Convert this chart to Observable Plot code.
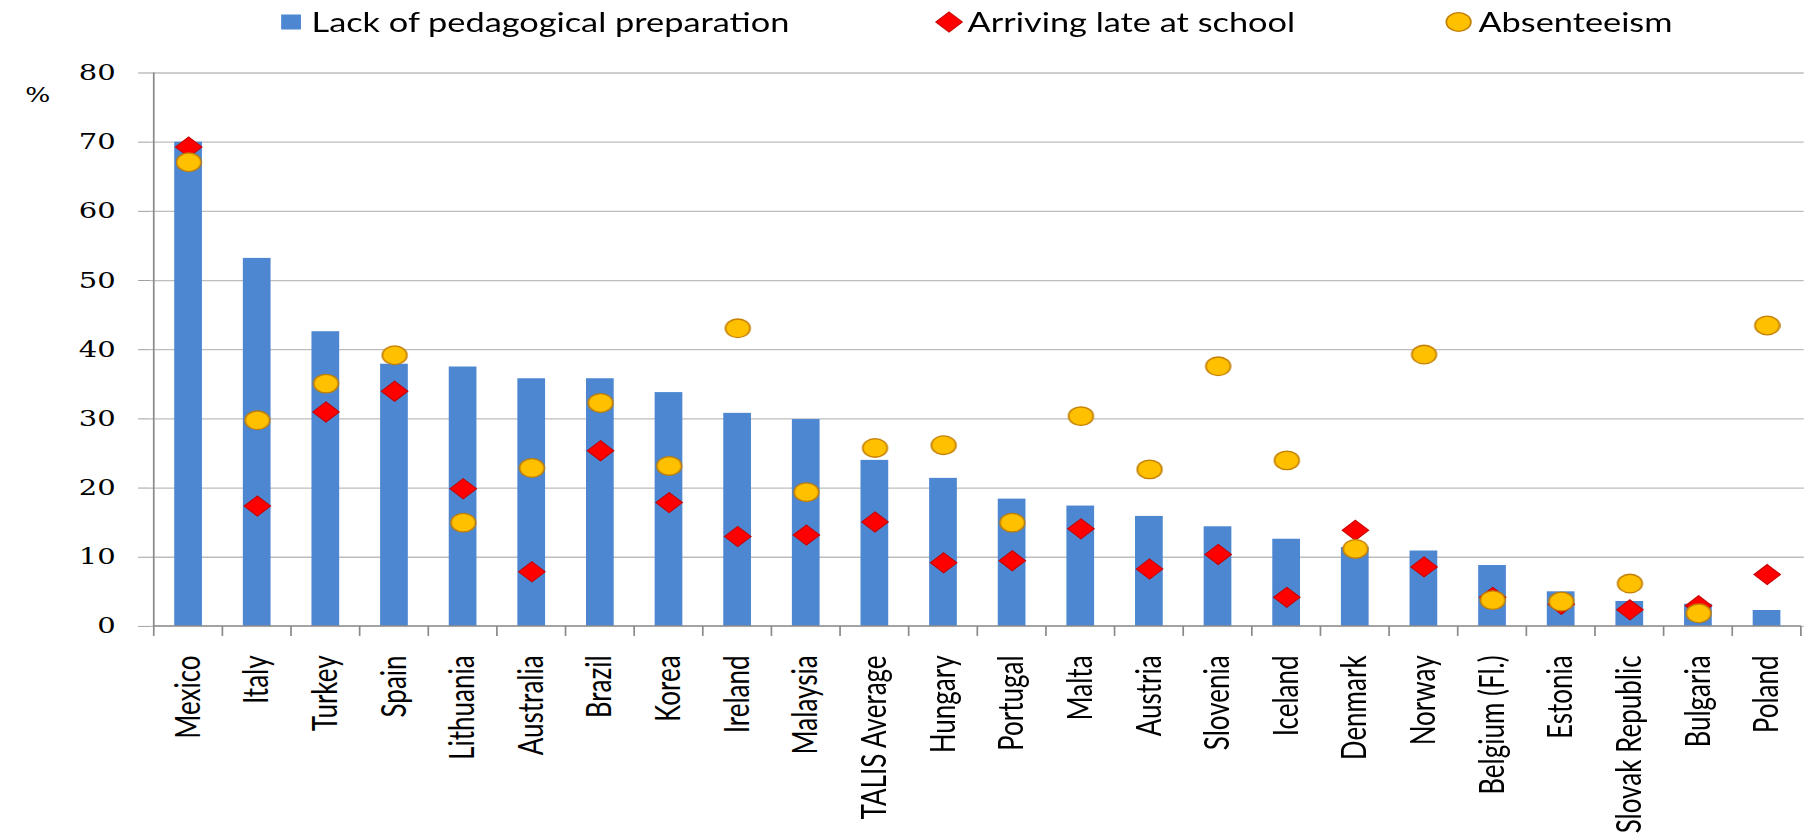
<!DOCTYPE html>
<html>
<head>
<meta charset="utf-8">
<script src="https://cdn.jsdelivr.net/npm/d3@7"></script>
<script src="https://cdn.jsdelivr.net/npm/@observablehq/plot@0.6"></script>
<style>
  html, body { margin: 0; padding: 0; background: #fff; overflow: hidden; }
  /* the whole figure is drawn narrow and stretched horizontally */
  #stage { position: relative; width: 1371px; transform: scaleX(1.32); transform-origin: 0 0; }
  #legend { position: relative; height: 44px; font-family: Lato, "Open Sans", sans-serif; font-size: 26px; color: #000; }
  .item { position: absolute; top: 0; height: 44px; display: flex; align-items: center; white-space: nowrap; }
  .item svg { flex: none; }
</style>
</head>
<body>
<div id="stage">
  <div id="legend"></div>
  <div id="chart"></div>
</div>
<script>
// Teachers' behaviour hindering instruction, by country (%)
const countries = [
  "Mexico", "Italy", "Turkey", "Spain", "Lithuania", "Australia", "Brazil", "Korea",
  "Ireland", "Malaysia", "TALIS Average", "Hungary", "Portugal", "Malta", "Austria",
  "Slovenia", "Iceland", "Denmark", "Norway", "Belgium (Fl.)", "Estonia",
  "Slovak Republic", "Bulgaria", "Poland"
];
const lackOfPreparation = [
  70.0, 53.2, 42.6, 37.9, 37.5, 35.8, 35.8, 33.8, 30.8, 29.9, 24.0, 21.4,
  18.4, 17.4, 15.9, 14.4, 12.6, 11.4, 10.9, 8.8, 5.0, 3.6, 3.2, 2.3
];
const arrivingLate = [
  69.3, 17.4, 31.0, 34.0, 19.9, 7.9, 25.4, 17.9, 13.0, 13.2, 15.1, 9.2,
  9.5, 14.1, 8.3, 10.4, 4.2, 13.9, 8.6, 4.2, 3.2, 2.4, 3.0, 7.5
];
const absenteeism = [
  67.1, 29.8, 35.1, 39.2, 15.0, 22.9, 32.3, 23.2, 43.1, 19.4, 25.8, 26.2,
  15.0, 30.4, 22.7, 37.6, 24.0, 11.2, 39.3, 3.8, 3.6, 6.2, 1.9, 43.5
];
const yTicks = [0, 10, 20, 30, 40, 50, 60, 70, 80];
const seriesNames = ["Lack of pedagogical preparation", "Arriving late at school", "Absenteeism"];

const barColor = "#4d87d1";
const diamondFill = "#ff0000", diamondStroke = "#c80000";
const circleFill = "#ffc000", circleStroke = "#c27e00";

const rows = countries.map((country, i) => ({
  country,
  prep: lackOfPreparation[i],
  late: arrivingLate[i],
  absent: absenteeism[i]
}));

// horizontal stretch of the figure
const k = 1.32;
const W = 1810 / k;

// axis lines and category separators at the band edges
function bandFrame(index, scales) {
  const {x, y} = scales;
  const half = (x.step() - x.bandwidth()) / 2;
  const edges = countries.map((c) => x(c) - half);
  edges.push(x(countries[countries.length - 1]) + x.bandwidth() + half);
  const y0 = y(0), yTop = y(d3.max(yTicks));
  const g = d3.create("svg:g").attr("stroke", "#8a8a8a").attr("stroke-width", 1.3).attr("fill", "none");
  g.selectAll("line.sep").data(edges).join("line")
    .attr("class", "sep")
    .attr("x1", (d) => d).attr("x2", (d) => d)
    .attr("y1", y0).attr("y2", y0 + 10);
  g.append("line").attr("x1", edges[0]).attr("x2", edges[0]).attr("y1", yTop).attr("y2", y0);
  g.append("line").attr("x1", edges[0]).attr("x2", edges[edges.length - 1]).attr("y1", y0).attr("y2", y0);
  return g.node();
}

const chart = Plot.plot({
  width: W,
  height: 796,
  marginLeft: 150 / k,
  marginRight: 6 / k,
  marginTop: 28.5,
  marginBottom: 214,
  style: { background: "#fff", color: "#000", overflow: "visible" },
  x: { domain: countries, paddingInner: 0.6, paddingOuter: 0.3, label: null },
  y: { domain: [0, 80], label: null },
  marks: [
    Plot.gridY(yTicks, { stroke: "#bdbdbd", strokeOpacity: 1, strokeWidth: 1.3 }),
    Plot.axisY(yTicks, {
      tickSize: 9, tickPadding: 17.5, stroke: "#a0a0a0",
      fontSize: 22, fontFamily: "DejaVu Serif", label: null
    }),
    Plot.axisX({
      tickSize: 0, tickPadding: 29, tickRotate: -90,
      fontSize: 26, fontFamily: "Lato, sans-serif", label: null
    }),
    Plot.barY(rows, { x: "country", y: "prep", fill: barColor }),
    bandFrame,
    Plot.dot(rows, {
      x: "country", y: "late", symbol: "diamond2", r: 9,
      fill: diamondFill, stroke: diamondStroke, strokeWidth: 1
    }),
    Plot.dot(rows, {
      x: "country", y: "absent", symbol: "circle", r: 9.3,
      fill: circleFill, stroke: circleStroke, strokeWidth: 1.3
    }),
    Plot.text(["%"], {
      frameAnchor: "top-left", dx: -95, dy: 15,
      fontSize: 20, fontFamily: "DejaVu Serif"
    })
  ]
});
document.getElementById("chart").appendChild(chart);

// legend above the chart
const legend = d3.select("#legend");
const legendItems = [
  { name: seriesNames[0], left: 213, gap: 8, marker: (s) => s.append("rect").attr("x", 0).attr("y", 2.5).attr("width", 15).attr("height", 15).attr("fill", barColor), w: 15 },
  { name: seriesNames[1], left: 709, gap: 4, marker: (s) => s.append("path").attr("d", "M10,0L20,10L10,20L0,10Z").attr("fill", diamondFill).attr("stroke", diamondStroke), w: 20 },
  { name: seriesNames[2], left: 1095, gap: 5, marker: (s) => s.append("circle").attr("cx", 10).attr("cy", 10).attr("r", 9.3).attr("fill", circleFill).attr("stroke", circleStroke).attr("stroke-width", 1.3), w: 20 }
];
for (const it of legendItems) {
  const div = legend.append("div").attr("class", "item").style("left", it.left + "px");
  const svg = div.append("svg").attr("width", it.w).attr("height", 20).style("overflow", "visible");
  it.marker(svg);
  div.append("span").style("margin-left", it.gap + "px").text(it.name);
}
</script>
</body>
</html>
